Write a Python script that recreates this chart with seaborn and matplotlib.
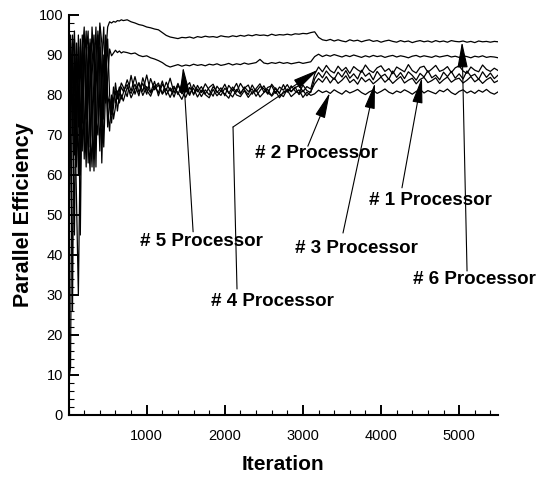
import numpy as np
import pandas as pd
import matplotlib
matplotlib.use("Agg")
import matplotlib.pyplot as plt
from matplotlib.ticker import MultipleLocator, FixedLocator
import seaborn as sns

# ---------------- data ----------------
iter_start = list(range(0, 700, 25))        # transient sampling
iter_steady = list(range(700, 5501, 50))    # steady sampling
iterations = iter_start + iter_steady

p6_start = [15, 93, 70, 88, 62, 95, 78, 66, 92, 84, 63, 80, 97, 88, 68, 85, 98, 93, 74, 90,
            97, 98.3, 98.0, 98.4, 98.2, 98.6, 98.5, 98.8]
p5_start = [30, 80, 95, 65, 90, 72, 94, 85, 64, 90, 96, 72, 62, 86, 97, 80, 66, 88, 97, 78,
            84, 91.5, 89.8, 90.5, 91.2, 90.6, 91.0, 90.5]
p4_start = [8, 12, 92, 78, 55, 30, 70, 95, 76, 62, 88, 93, 70, 64, 92, 95, 75, 68, 90, 86,
            72, 79, 76, 82, 78, 80, 82, 79]
p1_start = [22, 85, 26, 94, 80, 60, 92, 73, 88, 96, 70, 61, 88, 95, 74, 70, 92, 84, 67, 82,
            94, 80, 75, 77, 83, 79, 81, 83]
p3_start = [40, 95, 78, 45, 93, 82, 45, 90, 97, 68, 78, 94, 82, 61, 80, 96, 86, 63, 82, 95,
            76, 71, 80, 74, 77, 81, 78, 80]
p2_start = [55, 72, 88, 96, 70, 93, 60, 80, 94, 74, 92, 67, 85, 93, 62, 88, 97, 72, 80, 92,
            80, 77, 73, 79, 81, 76, 80, 82]

p6_steady = [98.6, 98.8, 98.3, 98.0, 97.6, 97.4, 97.0, 96.8, 96.5, 96.3,
             95.6, 94.9, 94.5, 94.3, 94.1, 94.4, 94.3, 94.5, 94.2, 94.6,
             94.4, 94.7, 94.5, 94.6, 94.4, 94.8, 94.6, 94.5, 94.8, 94.6,
             94.9, 94.7, 95.0, 94.8, 95.1, 94.9, 95.0, 94.8, 95.2, 94.9,
             95.1, 95.0, 95.2, 95.0, 95.3, 95.2, 95.4, 95.3, 95.6, 95.8,
             94.4, 93.8, 93.6, 93.9, 93.5, 93.8, 93.5, 93.3, 93.8, 93.5,
             93.7, 93.3, 93.6, 93.8, 93.4, 93.6, 93.2, 93.5, 93.7, 93.4,
             93.2, 93.6, 93.3, 93.5, 93.1, 93.4, 93.6, 93.3, 93.5, 93.2,
             93.6, 93.3, 93.5, 93.2, 93.6, 93.4, 93.3, 93.5, 93.2, 93.4,
             93.1, 93.5, 93.3, 93.4, 93.2, 93.4, 93.3]
p5_steady = [90.8, 90.6, 90.3, 90.5, 89.9, 89.6, 89.8, 89.3, 89.0, 88.6,
             88.1, 87.4, 87.0, 87.3, 87.6, 87.2, 87.5, 87.3, 87.7, 87.4,
             87.6, 87.3, 87.7, 87.5, 87.8, 87.4, 87.6, 87.9, 87.5, 87.8,
             87.6, 88.0, 87.7, 87.9, 88.1, 88.9, 88.0, 87.8, 88.1, 87.9,
             88.2, 87.9, 88.1, 87.8, 88.0, 88.2, 87.9, 88.1, 88.3, 89.6,
             90.2, 89.6, 90.0, 89.7, 90.1, 89.8, 89.5, 89.9, 89.6, 90.0,
             89.7, 89.4, 89.8, 89.5, 89.9, 89.6, 89.8, 89.4, 89.7, 89.9,
             89.5, 89.8, 89.6, 89.3, 89.7, 89.9, 89.5, 89.8, 89.6, 89.4,
             89.8, 89.5, 89.7, 89.9, 89.5, 89.7, 89.4, 89.8, 89.6, 89.3,
             89.7, 89.5, 89.8, 89.4, 89.6, 89.5, 89.3]
p4_steady = [80.5, 83.8, 81.0, 84.6, 80.7, 82.9, 80.2, 84.1, 81.3, 82.5,
             80.4, 83.2, 81.0, 82.2, 80.1, 82.8, 81.4, 79.9, 82.6, 80.8,
             82.1, 80.3, 81.9, 82.7, 80.6, 81.8, 79.8, 82.4, 81.1, 82.9,
             80.5, 81.7, 82.5, 80.2, 81.6, 82.8, 80.7, 81.9, 82.3, 80.4,
             82.0, 81.2, 82.6, 80.9, 81.8, 82.4, 80.8, 82.1, 81.5, 85.2,
             87.0, 85.8, 87.4, 86.1, 85.5, 87.2, 86.0, 86.9, 85.4, 87.1,
             86.3, 85.7, 87.5, 86.2, 85.6, 86.8, 87.3, 85.9, 86.6, 85.3,
             87.0, 86.4, 85.8, 87.6, 86.1, 85.5, 86.9, 87.2, 85.7, 86.5,
             87.4, 85.9, 86.3, 87.1, 85.6, 86.8, 87.3, 86.0, 85.4, 87.0,
             86.2, 85.8, 87.5, 86.4, 85.9, 86.7, 86.1]
p1_steady = [82.0, 79.6, 84.9, 80.2, 83.1, 80.9, 85.0, 80.6, 83.4, 79.8,
             82.7, 81.1, 84.2, 80.5, 82.9, 80.3, 82.0, 83.1, 80.0, 82.4,
             80.6, 82.8, 81.2, 79.7, 82.2, 80.9, 82.7, 80.4, 82.0, 80.7,
             82.9, 81.3, 80.1, 82.5, 80.8, 82.1, 81.6, 80.2, 82.7, 81.4,
             80.5, 82.6, 80.7, 82.3, 81.0, 80.4, 82.5, 81.1, 80.6, 84.0,
             85.6, 84.3, 86.0, 84.8, 83.9, 85.7, 84.5, 86.1, 84.2, 85.3,
             84.0, 86.2, 84.7, 85.5, 83.8, 85.9, 84.6, 85.2, 83.9, 86.0,
             84.4, 85.6, 84.1, 85.8, 84.9, 83.7, 85.4, 84.5, 86.1, 84.3,
             85.0, 83.8, 85.7, 84.6, 85.9, 84.2, 85.3, 84.0, 86.0, 84.7,
             85.2, 83.9, 85.8, 84.4, 85.5, 84.1, 85.0]
p3_steady = [78.5, 81.9, 80.4, 82.7, 79.8, 84.3, 81.2, 79.7, 82.3, 80.6,
             83.5, 80.0, 81.8, 79.5, 82.4, 80.7, 79.4, 81.9, 80.3, 81.5,
             79.6, 81.3, 80.0, 82.1, 80.8, 79.9, 81.7, 80.6, 79.5, 81.4,
             80.2, 82.0, 80.9, 81.5, 79.7, 81.1, 82.3, 80.5, 79.9, 81.8,
             80.3, 79.6, 81.5, 80.8, 82.0, 80.1, 81.2, 79.8, 80.9, 82.8,
             84.1, 83.2, 84.6, 83.0, 84.3, 82.9, 83.7, 84.8, 83.1, 83.9,
             82.7, 84.4, 83.3, 84.0, 82.8, 83.6, 84.5, 83.2, 84.1, 82.9,
             83.8, 84.6, 83.0, 83.7, 84.2, 82.8, 83.9, 84.4, 83.1, 83.6,
             84.3, 82.9, 83.8, 84.5, 83.2, 83.9, 84.2, 83.0, 83.7, 84.6,
             83.3, 84.0, 82.9, 83.8, 84.4, 83.1, 83.6]
p2_steady = [80.9, 82.6, 79.3, 81.5, 82.8, 79.9, 82.1, 80.5, 81.9, 83.0,
             80.2, 81.6, 79.4, 81.8, 80.6, 78.9, 81.3, 80.4, 81.7, 79.5,
             81.2, 80.1, 79.3, 81.4, 79.8, 81.0, 80.3, 79.2, 81.5, 80.0,
             79.6, 81.1, 79.4, 80.7, 81.3, 79.5, 80.6, 81.4, 79.7, 80.9,
             79.3, 80.8, 81.2, 79.6, 80.5, 81.3, 79.4, 80.7, 79.9, 80.3,
             81.2, 80.6, 81.0, 80.4, 81.3, 80.7, 80.2, 81.1, 80.5, 80.9,
             81.4, 80.6, 80.1, 80.8, 81.2, 80.4, 80.9, 81.5, 80.7, 80.3,
             81.0, 80.6, 81.3, 80.8, 80.2, 80.9, 81.4, 80.5, 81.1, 80.7,
             80.3, 81.2, 80.8, 81.5, 80.6, 80.1, 80.9, 81.3, 80.5, 81.0,
             80.4, 81.2, 80.7, 81.4, 80.6, 80.2, 80.8]

series = {
    "# 1 Processor": p1_start + p1_steady,
    "# 2 Processor": p2_start + p2_steady,
    "# 3 Processor": p3_start + p3_steady,
    "# 4 Processor": p4_start + p4_steady,
    "# 5 Processor": p5_start + p5_steady,
    "# 6 Processor": p6_start + p6_steady,
}

x_ticks = [1000, 2000, 3000, 4000, 5000]
y_ticks = [0, 10, 20, 30, 40, 50, 60, 70, 80, 90, 100]

# label text position, arrow tail, (optional bend), arrow tip  (data units)
labels = {
    "# 5 Processor": dict(text=(1695, 43.5), tail=(1594, 45.8), bend=None, tip=(1466, 87.0)),
    "# 4 Processor": dict(text=(2604, 28.3), tail=(2156, 31.5), bend=(2105, 72.0), tip=(3193, 86.3)),
    "# 3 Processor": dict(text=(3690, 41.6), tail=(3513, 45.5), bend=None, tip=(3923, 83.0)),
    "# 2 Processor": dict(text=(3167, 65.4), tail=(3063, 67.2), bend=None, tip=(3345, 80.6)),
    "# 1 Processor": dict(text=(4627, 53.6), tail=(4268, 56.8), bend=None, tip=(4524, 84.4)),
    "# 6 Processor": dict(text=(5200, 33.9), tail=(5101, 36.0), bend=None, tip=(5037, 93.3)),
}

rows = []
for name, vals in series.items():
    assert len(vals) == len(iterations), (name, len(vals), len(iterations))
    for it, v in zip(iterations, vals):
        rows.append((name, it, v))
df = pd.DataFrame(rows, columns=["Processor", "Iteration", "Efficiency"])

# ---------------- plot ----------------
sns.set_style("ticks")
plt.rcParams["font.family"] = ["Liberation Sans", "DejaVu Sans"]
plt.rcParams["text.color"] = "black"
plt.rcParams["axes.labelcolor"] = "black"

fig = plt.figure(figsize=(5.37, 4.79), dpi=100)
ax = fig.add_axes([68.6 / 537, 64 / 479, 429.6 / 537, 400 / 479])

sns.lineplot(data=df, x="Iteration", y="Efficiency", hue="Processor",
             palette={k: "black" for k in series}, estimator=None, sort=False,
             linewidth=0.9, legend=False, ax=ax)

ax.set_xlim(0, 5500)
ax.set_ylim(0, 100)
ax.xaxis.set_major_locator(FixedLocator(x_ticks))
ax.xaxis.set_minor_locator(MultipleLocator(200))
ax.yaxis.set_major_locator(FixedLocator(y_ticks))
ax.yaxis.set_minor_locator(MultipleLocator(2))
ax.tick_params(axis="both", which="major", direction="in", length=7, width=1.4,
               labelsize=10.5, color="black", labelcolor="black")
ax.tick_params(axis="both", which="minor", direction="in", length=3.6, width=0.8, color="black")
ax.tick_params(axis="x", which="major", pad=10)
ax.tick_params(axis="y", which="major", pad=4)
sns.despine(ax=ax)
for s in ("left", "bottom"):
    ax.spines[s].set_linewidth(1.5)
    ax.spines[s].set_color("black")

ax.set_xlabel("Iteration", fontsize=15, fontweight="bold", labelpad=9, color="black")
ax.set_ylabel("Parallel Efficiency", fontsize=15.5, fontweight="bold", labelpad=3, color="black")

arrow_kw = dict(arrowstyle="-|>,head_length=1.0,head_width=0.2", color="black",
                lw=0.8, shrinkA=0, shrinkB=0, mutation_scale=16)
for name, d in labels.items():
    ax.text(d["text"][0], d["text"][1], name, ha="center", va="center",
            fontsize=13.5, fontweight="bold", color="black", clip_on=False)
    start = d["tail"]
    if d["bend"] is not None:
        ax.annotate("", xy=d["bend"], xytext=d["tail"],
                    arrowprops=dict(arrowstyle="-", color="black", lw=0.8,
                                    shrinkA=0, shrinkB=0))
        start = d["bend"]
    ax.annotate("", xy=d["tip"], xytext=start, arrowprops=arrow_kw)

fig.savefig("out.png", dpi=100)
